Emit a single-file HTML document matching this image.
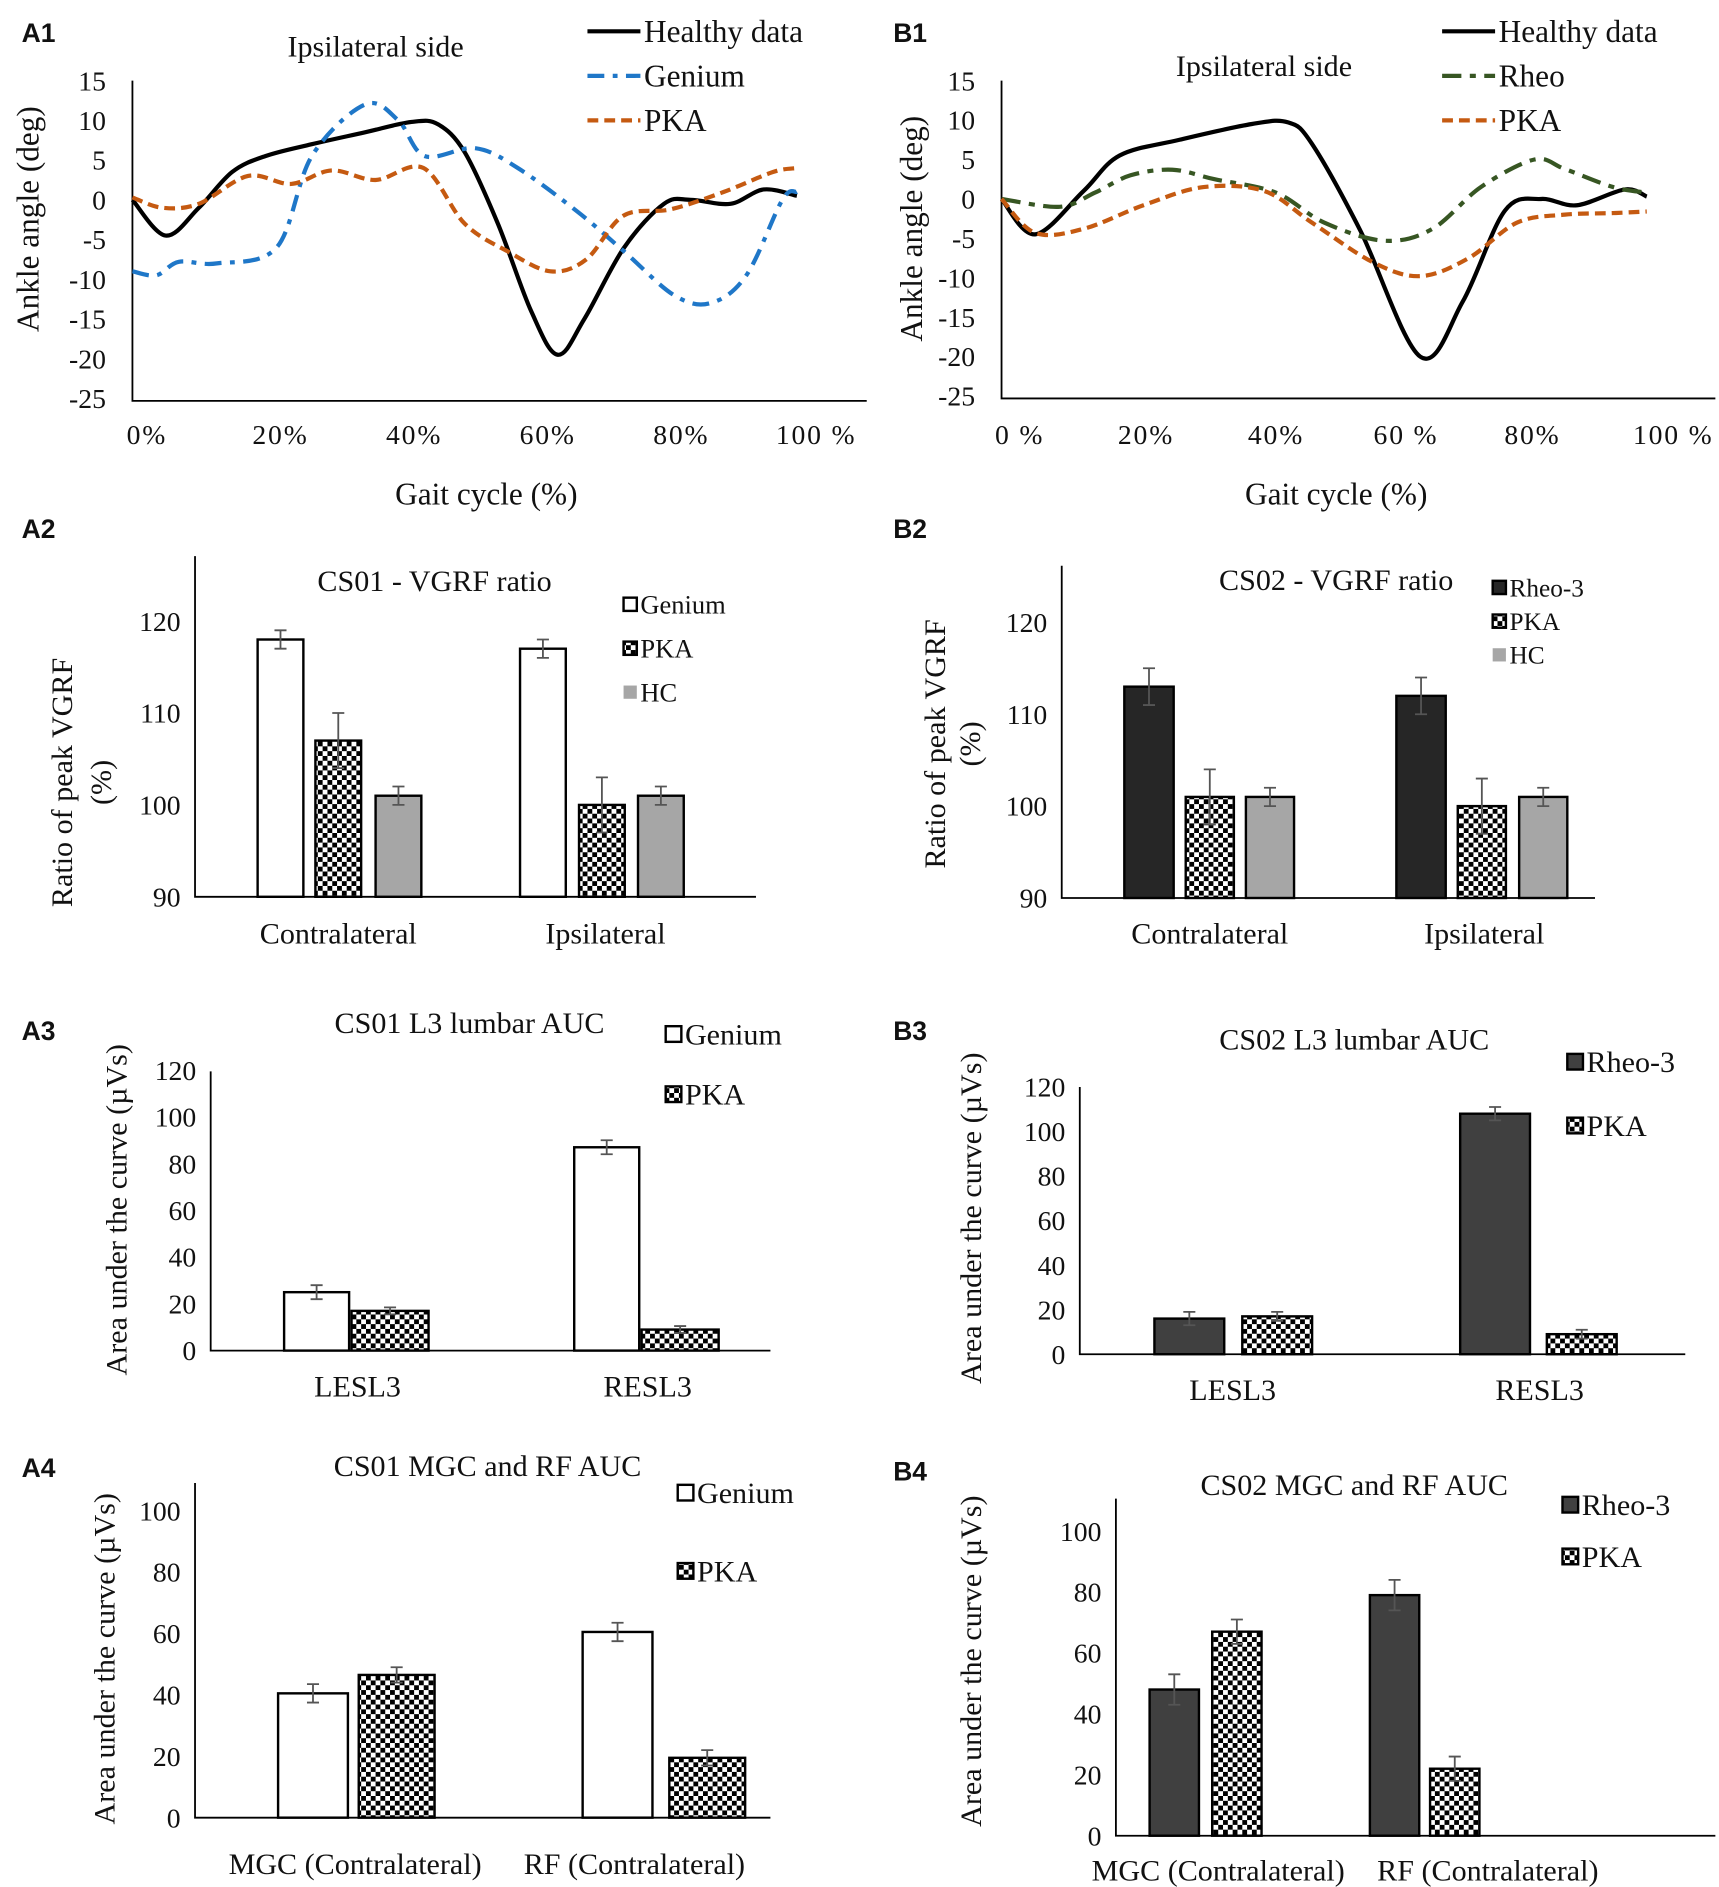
<!DOCTYPE html>
<html><head><meta charset="utf-8">
<style>
html,body{margin:0;padding:0;background:#fff;}
svg{display:block;}
text{font-family:"Liberation Serif",serif;fill:#111;}
.pl{font-family:"Liberation Sans",sans-serif;font-weight:bold;font-size:22px;}
</style></head>
<body>
<svg id="fig" width="1719" height="1887" viewBox="0 0 1428 1567.6" xmlns="http://www.w3.org/2000/svg">
<defs>
<pattern id="chk" width="8" height="8" patternUnits="userSpaceOnUse">
<rect width="8" height="8" fill="#fff"/><rect width="4" height="4" fill="#000"/><rect x="4" y="4" width="4" height="4" fill="#000"/>
</pattern>
</defs>
</svg>
<script>
// ---- Line chart data (percent of gait cycle, degrees) ----
const a1HealthyX=[0,5,10,15,20,27,35,42,46,50,55,60,64,68,74,80,84,90,95,100];
const a1HealthyY=[0,-4.5,-1,3.5,5.5,7,8.5,9.8,9.5,6,-3,-14,-19.5,-15,-6,-0.5,0,-0.5,1.3,0.5];
const a1GeniumX=[0,3.6,7,12.7,21.7,27,35,40,44,51.6,58,67,74,81.5,87,92.4,97.8,100];
const a1GeniumY=[-9,-9.5,-7.8,-8,-6,5.5,12,10,5.5,6.5,4,-1.5,-6.5,-12,-13,-9.5,0,1];
const a1PkaX=[0,4.5,10,17.4,23.9,30,36.6,43.8,50,56.5,62.9,68.3,73.9,81,89,96.4,100];
const a1PkaY=[0.3,-1,-0.5,3,2,3.7,2.5,4,-3,-6.5,-9,-7.5,-2,-1.2,1,3.5,4];
const b1HealthyX=[0,5.2,12.7,18.3,27.6,38.8,44.4,48.1,55.6,64.9,71.5,78,83.6,89.2,96.6,100];
const b1HealthyY=[0,-4.5,1,5.5,7.5,9.5,9.7,7,-4,-20,-13,-1.5,0,-0.8,1.2,0.3];
const b1RheoX=[0,9,14.5,20,26.5,33,42.5,50,59.3,66.8,74.3,82.6,87.3,94.8,100];
const b1RheoY=[0,-1,0.8,3,3.7,2.5,0.8,-3,-5.3,-3.8,1.5,5,3.8,1.5,0.8];
const b1PkaX=[0,5.2,12.7,22,31.3,40.7,48.1,57.5,64.9,72.4,79.9,87.3,94.8,100];
const b1PkaY=[0,-4.3,-3.8,-0.8,1.5,1,-3,-8,-9.8,-7.5,-3,-2,-1.8,-1.6];
const angleTicks=[15,10,5,0,-5,-10,-15,-20,-25];

// ---- Bar chart data ----
const a2Categories=["Contralateral","Ipsilateral"];
const a2Genium=[118,117]; const a2GeniumErr=[1,1];
const a2Pka=[107,100]; const a2PkaErr=[3,3];
const a2Hc=[101,101]; const a2HcErr=[1,1];
const b2Categories=["Contralateral","Ipsilateral"];
const b2Rheo=[113,112]; const b2RheoErr=[2,2];
const b2Pka=[101,100]; const b2PkaErr=[3,3];
const b2Hc=[101,101]; const b2HcErr=[1,1];
const vgrfTicks=[120,110,100,90];
const a3Categories=["LESL3","RESL3"];
const a3Genium=[25,87]; const a3GeniumErr=[3,3];
const a3Pka=[17,9]; const a3PkaErr=[1.5,1.5];
const b3Categories=["LESL3","RESL3"];
const b3Rheo=[16,108]; const b3RheoErr=[3,3];
const b3Pka=[17,9]; const b3PkaErr=[2,2];
const auc120Ticks=[120,100,80,60,40,20,0];
const a4Categories=["MGC (Contralateral)","RF (Contralateral)"];
const a4Genium=[40.5,60.5]; const a4GeniumErr=[3,3];
const a4Pka=[46.5,19.5]; const a4PkaErr=[2.5,2.5];
const b4Categories=["MGC (Contralateral)","RF (Contralateral)"];
const b4Rheo=[48,79]; const b4RheoErr=[5,5];
const b4Pka=[67,22]; const b4PkaErr=[4,4];
const auc100Ticks=[100,80,60,40,20,0];

const NS="http://www.w3.org/2000/svg";
const svg=document.getElementById('fig');
function el(tag,attrs,parent,txt){const e=document.createElementNS(NS,tag);for(const k in attrs)e.setAttribute(k,attrs[k]);if(txt!==undefined)e.textContent=txt;(parent||svg).appendChild(e);return e;}
function txt(x,y,s,size,anchor,name,parent,extra){const t=el('text',Object.assign({x:x,y:y,'font-size':size,'text-anchor':anchor||'middle'},extra||{}),parent,s);


return t;}

[["A1",18,35],["B1",742,35],["A2",18,447],["B2",742,447],["A3",18,864],["B3",742,864],["A4",18,1227],["B4",742,1230]].forEach(p=>{
 const t=el('text',{x:p[1],y:p[2],class:'pl'},svg,p[0]);
 
 
});

function smoothPath(pts){let d='M'+pts[0][0]+','+pts[0][1];
 for(let i=0;i<pts.length-1;i++){const p0=pts[i-1]||pts[i],p1=pts[i],p2=pts[i+1],p3=pts[i+2]||p2;
 const c1=[p1[0]+(p2[0]-p0[0])/6,p1[1]+(p2[1]-p0[1])/6],c2=[p2[0]-(p3[0]-p1[0])/6,p2[1]-(p3[1]-p1[1])/6];
 d+=' C'+c1[0].toFixed(1)+','+c1[1].toFixed(1)+' '+c2[0].toFixed(1)+','+c2[1].toFixed(1)+' '+p2[0].toFixed(1)+','+p2[1].toFixed(1);}
 return d;}

function lineChart(cfg){
 const g=el('g',{});
 
 
 const ys=v=>cfg.y0+(15-v)*(cfg.y1-cfg.y0)/40;
 const xs=v=>cfg.dx0+v*(cfg.dx1-cfg.dx0)/100;
 const ax=el('path',{d:`M${cfg.x0},${cfg.y0} V${cfg.y1+2} H${cfg.x1}`,fill:'none',stroke:'#000','stroke-width':1.5},g);
 
 
 angleTicks.forEach(v=>txt(cfg.x0-22,ys(v)+8,String(v),23,'end','y-tick-label',g));
 cfg.xlabels.forEach((s,i)=>txt(cfg.xlabelPos[i],369,s,23,'middle','x-tick-label',g,{'letter-spacing':'1.5'}));
 txt(cfg.xtitleX,419,'Gait cycle (%)',26,'middle','x-axis-title',g);
 txt(0,0,'Ankle angle (deg)',26,'middle','y-axis-title',g,{transform:`translate(${cfg.ytitleX},${cfg.ytitleY}) rotate(-90)`});
 txt(cfg.titleX,cfg.titleY,'Ipsilateral side',25,'middle','chart-title',g);
 cfg.series.forEach(s=>{
  const pts=s.x.map((v,i)=>[xs(v),ys(s.y[i])]);
  const p=el('path',{d:smoothPath(pts),fill:'none',stroke:s.color,'stroke-width':3.5,'stroke-dasharray':s.dash||'none'},g);
  
  
 });
 cfg.series.forEach((s,i)=>{
  const ly=cfg.legY+i*37;
  const l=el('line',{x1:cfg.legX,y1:ly,x2:cfg.legX+44,y2:ly,stroke:s.color,'stroke-width':3.5,'stroke-dasharray':s.dash||'none'},g);
  
  
  txt(cfg.legX+47,ly+9,s.label,26,'start','legend-entry-'+s.key,g);
 });
}
lineChart({name:'chart-a1',x0:110,x1:720,y0:67,y1:331,dx0:110,dx1:662,
 xlabels:['0%','20%','40%','60%','80%','100 %'],xlabelPos:[122,233,344,455,566,678],xtitleX:404,ytitleX:32,ytitleY:182,titleX:312,titleY:47,legX:488,legY:26,
 series:[{key:'healthy',label:'Healthy data',x:a1HealthyX,y:a1HealthyY,color:'#000'},
 {key:'genium',label:'Genium',x:a1GeniumX,y:a1GeniumY,color:'#1f77c8',dash:'14 7 4 7'},
 {key:'pka',label:'PKA',x:a1PkaX,y:a1PkaY,color:'#c55a11',dash:'9 5'}]});
lineChart({name:'chart-b1',x0:832,x1:1425,y0:67,y1:329,dx0:832,dx1:1368,
 xlabels:['0 %','20%','40%','60 %','80%','100 %'],xlabelPos:[847,952,1060,1168,1273,1390],xtitleX:1110,ytitleX:766,ytitleY:190,titleX:1050,titleY:63,legX:1198,legY:26,
 series:[{key:'healthy',label:'Healthy data',x:b1HealthyX,y:b1HealthyY,color:'#000'},
 {key:'rheo',label:'Rheo',x:b1RheoX,y:b1RheoY,color:'#375623',dash:'16 7 5 7'},
 {key:'pka',label:'PKA',x:b1PkaX,y:b1PkaY,color:'#c55a11',dash:'9 5'}]});

const fills={white:'#fff',check:'url(#chk)',grey:'#a6a6a6',dark:'#262626',dark2:'#404040'};
function barChart(cfg){
 const g=el('g',{});
 
 
 const ys=v=>cfg.yb+(v-cfg.vmin)*(cfg.yt-cfg.yb)/(cfg.vmax-cfg.vmin);
 const ax=el('path',{d:`M${cfg.x0},${cfg.ytop} V${cfg.yb} H${cfg.x1}`,fill:'none',stroke:'#000','stroke-width':1.5},g);
 
 
 cfg.ticks.forEach(v=>txt(cfg.x0-12,ys(v)+8,String(v),23,'end','y-tick-label',g));
 cfg.cats.forEach((c,ci)=>{
  txt(cfg.catX[ci],cfg.catY,c,25,'middle','x-category-label',g);
  cfg.series.forEach((s,si)=>{
   const x=cfg.barX[ci][si],w=cfg.bw[si],v=s.vals[ci],e=s.err[ci];
   const r=el('rect',{x:x,y:ys(v),width:w,height:cfg.yb-ys(v),fill:fills[s.fill],stroke:'#000','stroke-width':2},g);
   
   
   const cx=x+w/2;
   const eb=el('path',{d:`M${cx},${ys(v+e)} V${ys(v-e)} M${cx-5},${ys(v+e)} H${cx+5} M${cx-5},${ys(v-e)} H${cx+5}`,stroke:'#555','stroke-width':1.5,fill:'none'},g);
   
   
  });
 });
 txt(cfg.titleX,cfg.titleY,cfg.title,25,'middle','chart-title',g);
 cfg.ylab.forEach((s,i)=>txt(0,0,s,25,'middle',i?'y-axis-title-unit':'y-axis-title',g,{transform:`translate(${cfg.ylabX[i]},${cfg.ylabY}) rotate(-90)`}));
 cfg.series.forEach((s,i)=>{
  const ly=cfg.legY+i*cfg.legDy;
  const r=el('rect',{x:cfg.legX,y:ly-cfg.legS/2,width:cfg.legS,height:cfg.legS,fill:fills[s.fill],stroke:s.fill==='grey'?'none':'#000','stroke-width':2},g);
  
  
  txt(cfg.legX+cfg.legS+3,ly+cfg.legFs*0.35,s.label,cfg.legFs,'start','legend-entry-'+s.key,g);
 });
}
barChart({name:'chart-a2',x0:162,x1:628,ytop:462,yb:745,vmin:90,vmax:120,yt:516,ticks:vgrfTicks,
 cats:a2Categories,catX:[281,503],catY:784,barX:[[214,262,312],[432,481,530]],bw:[38,38,38],
 series:[{key:'genium',label:'Genium',vals:a2Genium,err:a2GeniumErr,fill:'white'},{key:'pka',label:'PKA',vals:a2Pka,err:a2PkaErr,fill:'check'},{key:'hc',label:'HC',vals:a2Hc,err:a2HcErr,fill:'grey'}],
 title:'CS01 - VGRF ratio',titleX:361,titleY:491,ylab:['Ratio of peak VGRF','(%)'],ylabX:[60,92],ylabY:650,
 legX:518,legY:502,legDy:36.5,legS:11,legFs:22});
barChart({name:'chart-b2',x0:882,x1:1325,ytop:470,yb:746,vmin:90,vmax:120,yt:517,ticks:vgrfTicks,
 cats:b2Categories,catX:[1005,1233],catY:784,barX:[[934,985,1035],[1160,1211,1262]],bw:[41,40,40],
 series:[{key:'rheo',label:'Rheo-3',vals:b2Rheo,err:b2RheoErr,fill:'dark'},{key:'pka',label:'PKA',vals:b2Pka,err:b2PkaErr,fill:'check'},{key:'hc',label:'HC',vals:b2Hc,err:b2HcErr,fill:'grey'}],
 title:'CS02 - VGRF ratio',titleX:1110,titleY:490,ylab:['Ratio of peak VGRF','(%)'],ylabX:[785,814],ylabY:618,
 legX:1240,legY:488,legDy:28,legS:11,legFs:21});
barChart({name:'chart-a3',x0:175,x1:640,ytop:890,yb:1122,vmin:0,vmax:120,yt:889,ticks:auc120Ticks,
 cats:a3Categories,catX:[297,538],catY:1160,barX:[[236,292],[477,533]],bw:[54,64],
 series:[{key:'genium',label:'Genium',vals:a3Genium,err:a3GeniumErr,fill:'white'},{key:'pka',label:'PKA',vals:a3Pka,err:a3PkaErr,fill:'check'}],
 title:'CS01 L3 lumbar AUC',titleX:390,titleY:858,ylab:['Area under the curve (µVs)'],ylabX:[105],ylabY:1005,
 legX:553,legY:859,legDy:50,legS:13,legFs:25});
barChart({name:'chart-b3',x0:897,x1:1400,ytop:903,yb:1125,vmin:0,vmax:120,yt:903,ticks:auc120Ticks,
 cats:b3Categories,catX:[1024,1279],catY:1163,barX:[[959,1032],[1213,1285]],bw:[58,58],
 series:[{key:'rheo',label:'Rheo-3',vals:b3Rheo,err:b3RheoErr,fill:'dark2'},{key:'pka',label:'PKA',vals:b3Pka,err:b3PkaErr,fill:'check'}],
 title:'CS02 L3 lumbar AUC',titleX:1125,titleY:872,ylab:['Area under the curve (µVs)'],ylabX:[815],ylabY:1012,
 legX:1302,legY:882,legDy:53,legS:13,legFs:25});
barChart({name:'chart-a4',x0:162,x1:640,ytop:1232,yb:1510,vmin:0,vmax:100,yt:1255,ticks:auc100Ticks,
 cats:a4Categories,catX:[295,527],catY:1557,barX:[[231,298],[484,556]],bw:[58,63],
 series:[{key:'genium',label:'Genium',vals:a4Genium,err:a4GeniumErr,fill:'white'},{key:'pka',label:'PKA',vals:a4Pka,err:a4PkaErr,fill:'check'}],
 title:'CS01 MGC and RF AUC',titleX:405,titleY:1226,ylab:['Area under the curve (µVs)'],ylabX:[95],ylabY:1378,
 legX:563,legY:1240,legDy:65,legS:13,legFs:25});
barChart({name:'chart-b4',x0:927,x1:1425,ytop:1245,yb:1525,vmin:0,vmax:100,yt:1272,ticks:auc100Ticks,
 cats:b4Categories,catX:[1012,1236],catY:1562,barX:[[955,1007],[1138,1188]],bw:[41,41],
 series:[{key:'rheo',label:'Rheo-3',vals:b4Rheo,err:b4RheoErr,fill:'dark2'},{key:'pka',label:'PKA',vals:b4Pka,err:b4PkaErr,fill:'check'}],
 title:'CS02 MGC and RF AUC',titleX:1125,titleY:1242,ylab:['Area under the curve (µVs)'],ylabX:[815],ylabY:1380,
 legX:1298,legY:1250,legDy:43,legS:13,legFs:25});
</script>
</body></html>
